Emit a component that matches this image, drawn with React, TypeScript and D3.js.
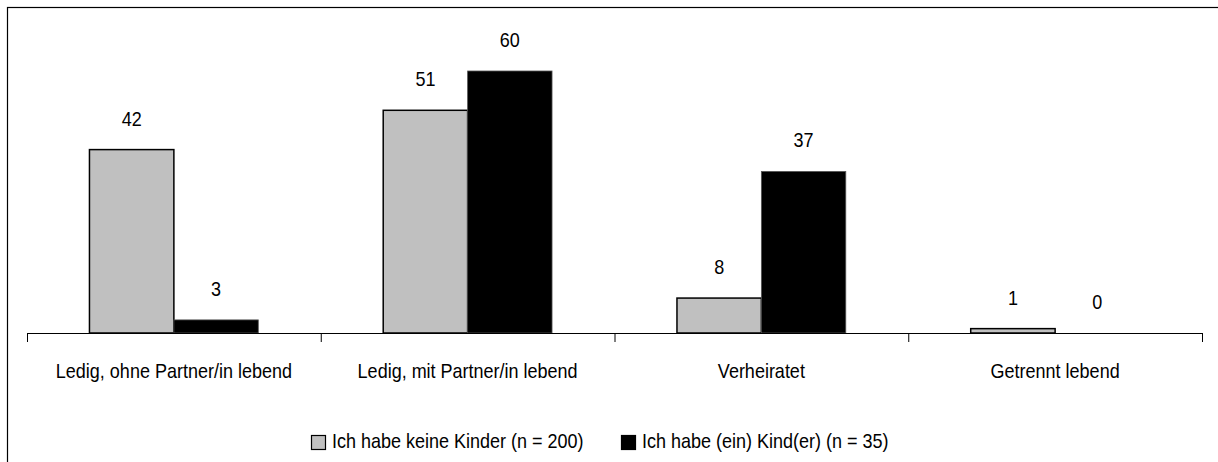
import * as d3 from 'd3';
import React, { useEffect, useRef } from 'react';

const WIDTH = 1218;
const HEIGHT = 462;
const FONT = '"Liberation Sans Narrow", "Arial Narrow", "Liberation Sans", Arial, sans-serif';
const FONT_SIZE = '20px';
const NARROW = 0.9; // squeeze the text horizontally, no narrow font installed

const categories = [
  'Ledig, ohne Partner/in lebend',
  'Ledig, mit Partner/in lebend',
  'Verheiratet',
  'Getrennt lebend',
];
const seriesNames = ['Ich habe keine Kinder (n = 200)', 'Ich habe (ein) Kind(er) (n = 35)'];
const noKids = [42, 51, 8, 1];
const withKids = [3, 60, 37, 0];
const seriesColors = ['#c0c0c0', '#000000'];

const margin = { top: 71, left: 27, right: 16, bottom: 129 };
const baseY = HEIGHT - margin.bottom;

const App: React.FC = () => {
  const ref = useRef<SVGSVGElement>(null);

  useEffect(() => {
    const svg = d3.select(ref.current);
    svg.selectAll('*').remove();

    const addText = (x: number, yy: number, txt: string, anchor = 'middle') =>
      svg
        .append('text')
        .attr('transform', `translate(${x},${yy}) scale(${NARROW},1)`)
        .attr('text-anchor', anchor)
        .style('font-family', FONT)
        .style('font-size', FONT_SIZE)
        .attr('fill', '#000')
        .text(txt);

    const values = [noKids, withKids];

    const x0 = d3.scaleBand<string>().domain(categories).range([margin.left, 1202]).paddingInner(0);
    const x1 = d3
      .scaleBand<string>()
      .domain(['0', '1'])
      .range([0, x0.bandwidth()])
      .paddingInner(0)
      .paddingOuter(0.74);
    const y = d3.scaleLinear().domain([0, 60]).range([baseY, margin.top]);

    // outer frame
    svg
      .append('rect')
      .attr('x', 7.5)
      .attr('y', 7.5)
      .attr('width', 1300)
      .attr('height', 600)
      .attr('fill', 'none')
      .attr('stroke', '#000')
      .attr('stroke-width', 1.2);

    values.forEach((vals, si) => {
      categories.forEach((c, i) => {
        const bx = (x0(c) as number) + (x1(String(si)) as number);
        if (vals[i] > 0) {
          svg
            .append('rect')
            .attr('x', bx)
            .attr('y', y(vals[i]))
            .attr('width', x1.bandwidth())
            .attr('height', baseY - y(vals[i]))
            .attr('fill', seriesColors[si])
            .attr('stroke', si === 0 ? '#000' : '#555')
            .attr('stroke-width', si === 0 ? 1.5 : 0.8);
        }
        addText(bx + x1.bandwidth() / 2, y(vals[i]) - 24, String(vals[i]));
      });
    });

    // x axis
    const axis = d3.axisBottom(x0).tickValues([]).tickSizeOuter(0);
    svg
      .append('g')
      .attr('transform', `translate(0,${baseY})`)
      .call(axis)
      .select('.domain')
      .attr('stroke', '#000');

    const boundaries = [...categories.map(c => x0(c) as number), 1202];
    svg
      .selectAll('line.tick')
      .data(boundaries)
      .enter()
      .append('line')
      .attr('class', 'tick')
      .attr('x1', d => d + 0.5)
      .attr('x2', d => d + 0.5)
      .attr('y1', baseY)
      .attr('y2', baseY + 9)
      .attr('stroke', '#000');

    categories.forEach(c => addText((x0(c) as number) + x0.bandwidth() / 2, 378, c));

    // legend
    const legendX = [311, 621];
    seriesNames.forEach((name, i) => {
      svg
        .append('rect')
        .attr('x', legendX[i] + 0.5)
        .attr('y', 435.5)
        .attr('width', 14)
        .attr('height', 14)
        .attr('fill', seriesColors[i])
        .attr('stroke', '#000')
        .attr('stroke-width', 1.2);
      addText(legendX[i] + 21, 448, name, 'start');
    });
  }, []);

  return (
    <svg
      ref={ref}
      width={WIDTH}
      height={HEIGHT}
      style={{ position: 'absolute', left: 0, top: 0, background: '#fff' }}
    />
  );
};

export default App;
